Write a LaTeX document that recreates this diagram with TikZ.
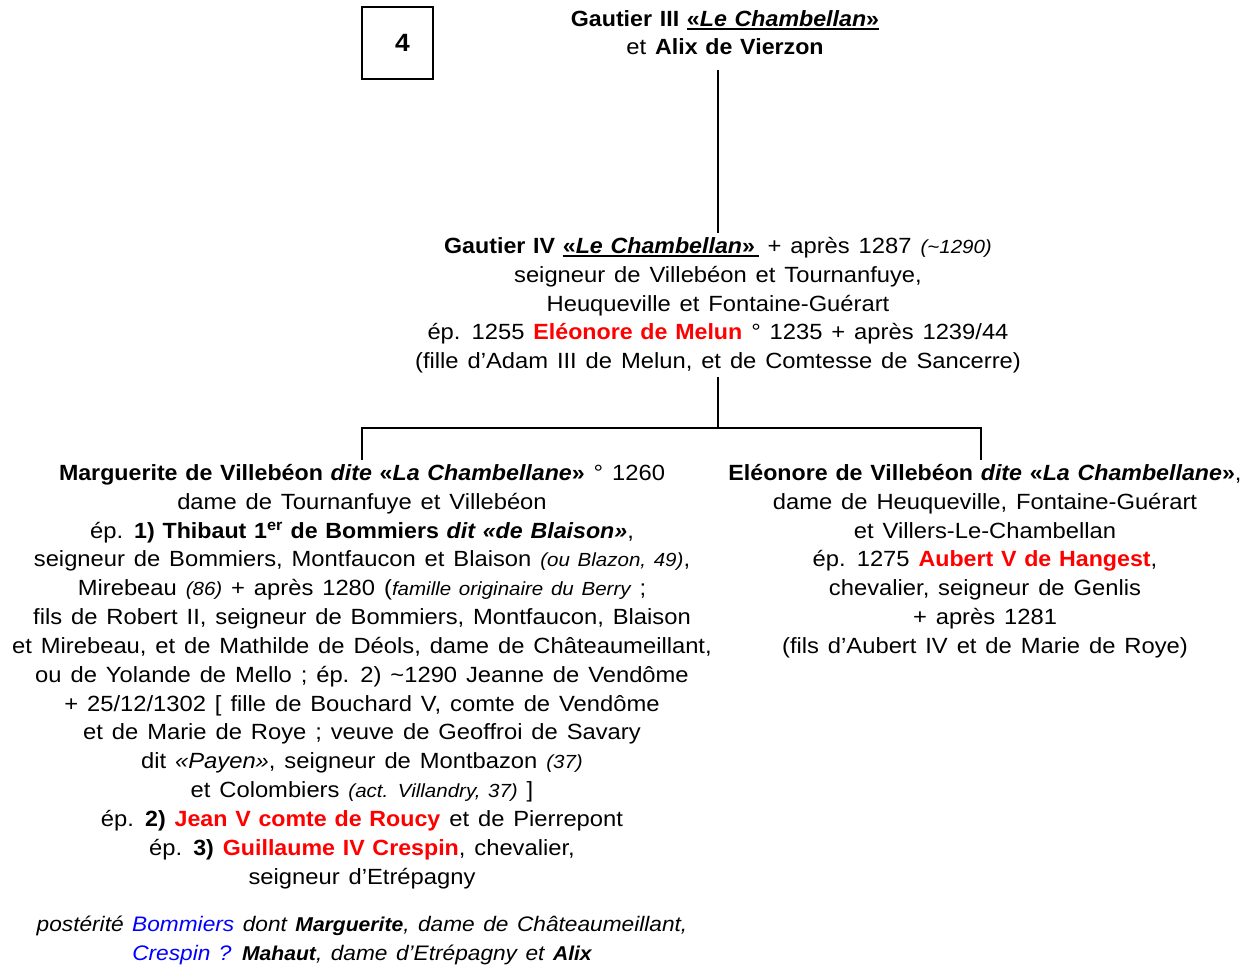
\documentclass[tikz,border=0pt]{standalone}
\usepackage{fontspec}
\setmainfont{Liberation Sans}[FakeStretch=1.08,WordSpace=1.35,
  BoldFeatures={FakeStretch=1.055,WordSpace=1.2},
  BoldItalicFeatures={FakeStretch=1.055,WordSpace=1.2}]
\usepackage{xcolor}
\definecolor{rouge}{RGB}{255,0,0}
\definecolor{bleu}{RGB}{0,0,255}
\newcommand{\nom}[1]{\textcolor{rouge}{\textbf{#1}}}
\newcommand{\lieu}[1]{{\fontsize{19}{28}\selectfont\itshape #1}}
\newcommand{\souligne}[1]{\setbox0\hbox{#1}\rlap{\rule[-3.5pt]{\wd0}{1.8pt}}\box0}

\begin{document}
\begin{tikzpicture}[x=1pt,y=-1pt,
    fiche/.style={align=center,inner sep=0pt,anchor=north,
      font=\fontsize{22}{28.85}\selectfont},
    lien/.style={line width=2pt}]
  \useasboundingbox (0,0) rectangle (1247,965);

  \node[draw,line width=1.3pt,minimum width=71pt,minimum height=72pt,
        font=\fontsize{25}{30}\selectfont\bfseries] (num) at (397.5,43) {\hspace{10pt}4};

  \node[fiche] (gIII) at (725,10)
    {\textbf{Gautier III \souligne{«\textit{Le Chambellan}»}}\\
     et \textbf{Alix de Vierzon}};

  \node[fiche] (gIV) at (718,237)
    {\textbf{Gautier IV \souligne{«\textit{Le Chambellan}»\,}} + après 1287 \lieu{(\textasciitilde1290)}\\
     seigneur de Villebéon et Tournanfuye,\\
     Heuqueville et Fontaine-Guérart\\
     ép. 1255 \nom{Eléonore de Melun} ° 1235 + après 1239/44\\
     (fille d’Adam III de Melun, et de Comtesse de Sancerre)};

  \node[fiche] (marg) at (362,464)
    {\textbf{Marguerite de Villebéon \textit{dite} «\textit{La Chambellane}»} ° 1260\\
     dame de Tournanfuye et Villebéon\\
     ép. \textbf{1) Thibaut 1\textsuperscript{er} de Bommiers \textit{dit «de Blaison»}},\\
     seigneur de Bommiers, Montfaucon et Blaison \lieu{(ou Blazon, 49)},\\
     Mirebeau \lieu{(86)} + après 1280 (\lieu{famille originaire du Berry} ;\\
     fils de Robert II, seigneur de Bommiers, Montfaucon, Blaison\\
     et Mirebeau, et de Mathilde de Déols, dame de Châteaumeillant,\\
     ou de Yolande de Mello ; ép. 2) \textasciitilde1290 Jeanne de Vendôme\\
     + 25/12/1302 [ fille de Bouchard V, comte de Vendôme\\
     et de Marie de Roye ; veuve de Geoffroi de Savary\\
     dit \textit{«Payen»}, seigneur de Montbazon \lieu{(37)}\\
     et Colombiers \lieu{(act. Villandry, 37)} ]\\
     ép. \textbf{2)} \nom{Jean V comte de Roucy} et de Pierrepont\\
     ép. \textbf{3)} \nom{Guillaume IV Crespin}, chevalier,\\
     seigneur d’Etrépagny};

  \node[fiche] (eleo) at (985,464)
    {\textbf{Eléonore de Villebéon \textit{dite} «\textit{La Chambellane}»},\\
     dame de Heuqueville, Fontaine-Guérart\\
     et Villers-Le-Chambellan\\
     ép. 1275 \nom{Aubert V de Hangest},\\
     chevalier, seigneur de Genlis\\
     + après 1281\\
     (fils d’Aubert IV et de Marie de Roye)};

  \node[fiche,font=\fontsize{21}{29}\selectfont\itshape] (post) at (362,916)
    {postérité \textcolor{bleu}{Bommiers} dont {\fontsize{20}{29}\selectfont\bfseries Marguerite}, dame de Châteaumeillant,\\
     \textcolor{bleu}{Crespin ?} {\fontsize{20}{29}\selectfont\bfseries Mahaut}, dame d’Etrépagny et {\fontsize{20}{29}\selectfont\bfseries Alix}};

  % liens
  \coordinate (bar) at (722,428);
  \draw[lien,shorten <=15pt,shorten >=4pt] (gIII.south -| gIV.north) -- (gIV.north);
  \draw[lien,shorten <=3pt] (gIV.south) -- (gIV.south |- bar);
  \draw[lien,shorten <=4pt,shorten >=4pt] (marg.north) |- (gIV.south |- bar) -| ([xshift=-4pt]eleo.north);
\end{tikzpicture}
\end{document}
